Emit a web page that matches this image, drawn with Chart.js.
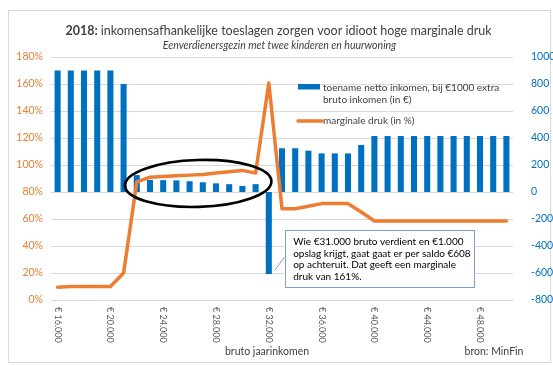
<!DOCTYPE html>
<html>
<head>
<meta charset="utf-8">
<script src="https://cdn.jsdelivr.net/npm/chart.js@4.4.1/dist/chart.umd.min.js"></script>
<style>
  html, body { margin: 0; padding: 0; background: #fff; }
  #wrap { position: relative; width: 553px; height: 366px; }
</style>
</head>
<body>
<div id="wrap"><canvas id="chart" width="553" height="366"></canvas></div>
<script>
// bruto jaarinkomen, steps of 1000
const incomeLabels = [
  '€ 16.000', '€ 17.000', '€ 18.000', '€ 19.000', '€ 20.000', '€ 21.000', '€ 22.000',
  '€ 23.000', '€ 24.000', '€ 25.000', '€ 26.000', '€ 27.000', '€ 28.000', '€ 29.000',
  '€ 30.000', '€ 31.000', '€ 32.000', '€ 33.000', '€ 34.000', '€ 35.000', '€ 36.000',
  '€ 37.000', '€ 38.000', '€ 39.000', '€ 40.000', '€ 41.000', '€ 42.000', '€ 43.000',
  '€ 44.000', '€ 45.000', '€ 46.000', '€ 47.000', '€ 48.000', '€ 49.000', '€ 50.000'
];

// toename netto inkomen bij €1000 extra bruto (in €), right axis
const netGain = [
  900, 900, 900, 900, 900, 800, 125, 90, 88, 86,
  80, 72, 64, 58, 45, 58, -608, 324, 324, 306,
  286, 286, 286, 348, 415, 415, 415, 415, 415, 415,
  415, 415, 415, 415, 415
];

// marginale druk (in %), left axis
const marginalRate = [
  9.5, 10, 10, 10, 10, 20, 87.5, 91, 91.5, 92,
  92.5, 93, 94, 95, 96, 94, 160.8, 67.6, 67.6, 69.4,
  71.4, 71.4, 71.4, 65.2, 58.5, 58.5, 58.5, 58.5, 58.5, 58.5,
  58.5, 58.5, 58.5, 58.5, 58.5
];

const pctTicks = [0, 20, 40, 60, 80, 100, 120, 140, 160, 180];
const euroTicks = [-800, -600, -400, -200, 0, 200, 400, 600, 800, 1000];

const FONT = 'Lato, "Open Sans", sans-serif';
const ORANGE = '#ED7D31';
const BLUE = '#0070C0';
const TEXT = '#404040';

const calloutLines = [
  'Wie €31.000 bruto verdient en €1.000',
  'opslag krijgt, gaat gaat er per saldo €608',
  'op achteruit. Dat geeft een marginale',
  'druk van 161%.'
];

const decorations = {
  id: 'decorations',
  beforeDraw(chart) {
    const ctx = chart.ctx;
    ctx.save();
    ctx.fillStyle = '#fff';
    ctx.fillRect(0, 0, chart.width, chart.height);
    ctx.strokeStyle = '#d9d9d9';
    ctx.lineWidth = 1;
    ctx.strokeRect(8.5, 10.5, 542, 352);
    ctx.restore();
  },
  afterDraw(chart) {
    const ctx = chart.ctx;
    const xs = chart.scales.x, yl = chart.scales.y, yr = chart.scales.y1;
    const area = chart.chartArea;
    ctx.save();

    // title, "2018:" in bold
    const t1 = '2018:', t2 = ' inkomensafhankelijke toeslagen zorgen voor idioot hoge marginale druk';
    ctx.fillStyle = TEXT;
    ctx.textBaseline = 'middle';
    ctx.font = 'bold 12.5px ' + FONT;
    const w1 = ctx.measureText(t1).width;
    ctx.font = '12.5px ' + FONT;
    const w2 = ctx.measureText(t2).width;
    let tx = chart.width / 2 + 2 - (w1 + w2) / 2;
    ctx.textAlign = 'left';
    ctx.font = 'bold 12.5px ' + FONT;
    ctx.fillText(t1, tx, 31);
    ctx.font = '12.5px ' + FONT;
    ctx.fillText(t2, tx + w1, 31);

    ctx.font = 'italic 10.5px ' + FONT;
    ctx.textAlign = 'center';
    ctx.fillText('Eenverdienersgezin met twee kinderen en huurwoning', chart.width / 2 + 3, 46);

    // x tick labels, every 4th, reading top to bottom
    ctx.font = '9px ' + FONT;
    ctx.fillStyle = '#595959';
    ctx.textAlign = 'left';
    incomeLabels.forEach((lab, i) => {
      if (i % 4 !== 0) return;
      ctx.save();
      ctx.translate(xs.getPixelForValue(i), area.bottom + 7);
      ctx.rotate(Math.PI / 2);
      ctx.fillText(lab, 0, 0);
      ctx.restore();
    });

    // axis title and source
    ctx.fillStyle = TEXT;
    ctx.font = '10.5px ' + FONT;
    ctx.textAlign = 'center';
    ctx.fillText('bruto jaarinkomen', 267, 352);
    ctx.fillText('bron: MinFin', 494, 352);

    // legend inside the plot
    const lx = area.left + 247;
    ctx.fillStyle = BLUE;
    ctx.fillRect(lx, 84, 22, 5.5);
    ctx.strokeStyle = ORANGE;
    ctx.lineWidth = 3.5;
    ctx.lineCap = 'round';
    ctx.beginPath();
    ctx.moveTo(lx, 121);
    ctx.lineTo(lx + 24, 121);
    ctx.stroke();
    ctx.fillStyle = TEXT;
    ctx.font = '10px ' + FONT;
    ctx.textAlign = 'left';
    ctx.fillText('toename netto inkomen, bij €1000 extra', lx + 25, 87.5);
    ctx.fillText('bruto inkomen (in €)', lx + 25, 100);
    ctx.fillText('marginale druk (in %)', lx + 25, 121);

    // ellipse around the low bars
    const ex0 = xs.getPixelForValue(5.1), ex1 = xs.getPixelForValue(16.2);
    const ey0 = yl.getPixelForValue(103.7), ey1 = yl.getPixelForValue(69);
    ctx.strokeStyle = '#000';
    ctx.lineWidth = 2.6;
    ctx.beginPath();
    ctx.ellipse((ex0 + ex1) / 2, (ey0 + ey1) / 2, (ex1 - ex0) / 2, (ey1 - ey0) / 2, -0.03, 0, Math.PI * 2);
    ctx.stroke();

    // callout box
    const bx0 = xs.getPixelForValue(17.2), bx1 = xs.getPixelForValue(31.5);
    const by0 = yr.getPixelForValue(-281), by1 = yr.getPixelForValue(-704);
    ctx.strokeStyle = '#7f9fd0';
    ctx.lineWidth = 1;
    ctx.beginPath();
    ctx.moveTo(bx0, by0 + 27);
    ctx.lineTo(xs.getPixelForValue(16) + 6, yr.getPixelForValue(-580));
    ctx.stroke();
    ctx.fillStyle = '#fff';
    ctx.fillRect(bx0, by0, bx1 - bx0, by1 - by0);
    ctx.strokeRect(Math.round(bx0) + 0.5, Math.round(by0) + 0.5, Math.round(bx1 - bx0), Math.round(by1 - by0));
    ctx.fillStyle = '#000';
    ctx.font = '10px ' + FONT;
    ctx.textAlign = 'left';
    calloutLines.forEach((line, i) => {
      ctx.fillText(line, bx0 + 8.5, by0 + 11.7 + i * 11.7);
    });

    ctx.restore();
  }
};

new Chart(document.getElementById('chart'), {
  data: {
    labels: incomeLabels,
    datasets: [{
      type: 'line',
      label: 'marginale druk (in %)',
      data: marginalRate,
      yAxisID: 'y',
      borderColor: ORANGE,
      backgroundColor: ORANGE,
      borderWidth: 3.5,
      pointRadius: 0,
      tension: 0,
      borderJoinStyle: 'round',
      borderCapStyle: 'round',
      order: 0
    }, {
      type: 'bar',
      label: 'toename netto inkomen, bij €1000 extra bruto inkomen (in €)',
      data: netGain,
      yAxisID: 'y1',
      backgroundColor: BLUE,
      categoryPercentage: 1,
      barPercentage: 0.46,
      order: 1
    }]
  },
  options: {
    responsive: false,
    animation: false,
    devicePixelRatio: 1,
    layout: { padding: { top: 57, left: 0, right: 0, bottom: 0 } },
    plugins: {
      legend: { display: false },
      title: { display: false },
      tooltip: { enabled: false }
    },
    scales: {
      x: {
        grid: { display: false },
        border: { display: false },
        ticks: { display: false },
        afterFit: s => { s.height = 66; }
      },
      y: {
        position: 'left',
        min: pctTicks[0],
        max: pctTicks[pctTicks.length - 1],
        afterBuildTicks: s => { s.ticks = pctTicks.map(v => ({ value: v })); },
        ticks: {
          color: ORANGE,
          padding: 8,
          font: { family: FONT, size: 10.5 },
          callback: v => v + '%'
        },
        grid: { color: '#d9d9d9', drawTicks: false },
        border: { display: false },
        afterFit: s => { s.width = 51; }
      },
      y1: {
        position: 'right',
        min: euroTicks[0],
        max: euroTicks[euroTicks.length - 1],
        afterBuildTicks: s => { s.ticks = euroTicks.map(v => ({ value: v })); },
        ticks: {
          color: BLUE,
          padding: 10,
          font: { family: FONT, size: 10.5 },
          callback: v => String(v)
        },
        grid: { display: false },
        border: { display: false },
        afterFit: s => { s.width = 40; }
      }
    }
  },
  plugins: [decorations]
});
</script>
</body>
</html>
